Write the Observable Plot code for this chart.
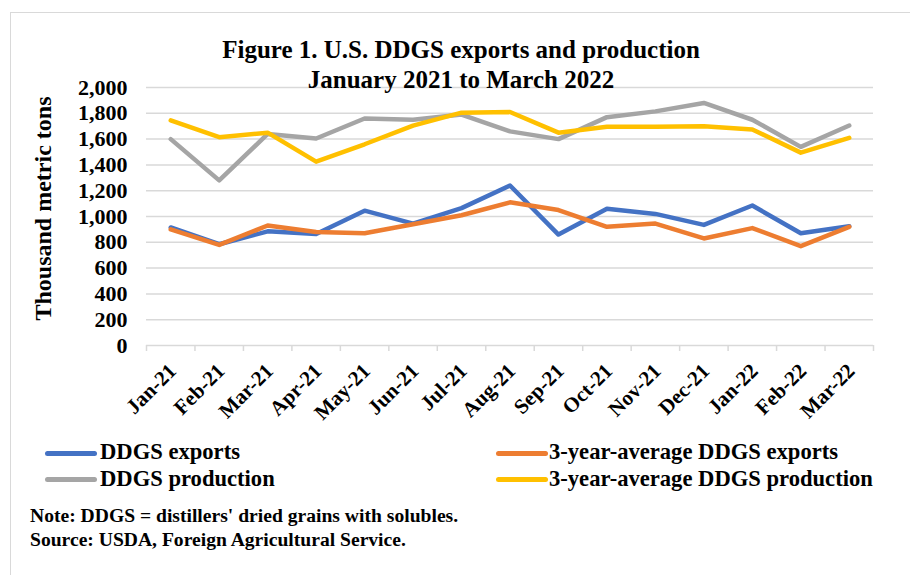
<!DOCTYPE html>
<html>
<head>
<meta charset="utf-8">
<script src="https://cdn.jsdelivr.net/npm/d3@7"></script>
<script src="https://cdn.jsdelivr.net/npm/@observablehq/plot@0.6"></script>
<style>
  html, body { margin: 0; padding: 0; background: #fff; }
  #wrap { position: relative; width: 910px; height: 575px; overflow: hidden; background: #fff;
          font-family: "Liberation Serif", "Times New Roman", serif; font-weight: bold; color: #000; }
  #border { position: absolute; left: 10px; top: 12px; width: 920px; height: 600px; border: 1.5px solid #d9d9d9; box-sizing: border-box; }
  #chart { position: absolute; left: 0; top: 0; }
  .title { position: absolute; left: 0; width: 922px; text-align: center; font-family: "Liberation Serif", serif; font-weight: 700; font-size: 25px; line-height: 30px; white-space: nowrap; }
  .leg { position: absolute; font-family: "Liberation Serif", serif; font-weight: 700; font-size: 22.6px; line-height: 26px; white-space: nowrap; }
  .sw { position: absolute; height: 5px; border-radius: 3px; }
  .note { position: absolute; left: 30px; font-family: "Liberation Serif", serif; font-weight: 700; font-size: 19.6px; line-height: 22px; white-space: nowrap; }
</style>
</head>
<body>
<div id="wrap">
  <div id="border"></div>
  <div id="chart"></div>
</div>
<script>
const months = ["Jan-21","Feb-21","Mar-21","Apr-21","May-21","Jun-21","Jul-21","Aug-21","Sep-21","Oct-21","Nov-21","Dec-21","Jan-22","Feb-22","Mar-22"];
const ddgsExports      = [915, 785, 885, 865, 1045, 945, 1065, 1240, 860, 1060, 1020, 935, 1085, 870, 925];
const avgExports       = [900, 780, 930, 880, 870, 940, 1010, 1110, 1050, 920, 945, 830, 910, 770, 920];
const ddgsProduction   = [1600, 1280, 1640, 1605, 1760, 1750, 1790, 1660, 1600, 1770, 1815, 1880, 1750, 1540, 1705];
const avgProduction    = [1745, 1615, 1650, 1425, 1560, 1705, 1805, 1810, 1650, 1695, 1695, 1700, 1675, 1495, 1610];
const seriesNames  = ["DDGS exports", "3-year-average DDGS exports", "DDGS production", "3-year-average DDGS production"];
const seriesColors = ["#4472C4", "#ED7D31", "#A5A5A5", "#FFC000"];
const yTicks = [0, 200, 400, 600, 800, 1000, 1200, 1400, 1600, 1800, 2000];
const titleLines = ["Figure 1. U.S. DDGS exports and production", "January 2021 to March 2022"];
const yTitle = "Thousand metric tons";
const notes = ["Note: DDGS = distillers' dried grains with solubles.", "Source: USDA, Foreign Agricultural Service."];

const allSeries = [ddgsExports, avgExports, ddgsProduction, avgProduction];
const rows = allSeries.flatMap((vals, s) => vals.map((v, i) => ({ s, i, v })));
const idx = months.map((m, i) => i);
const bounds = [-0.5, ...idx.map(i => i + 0.5)];
const font = "Liberation Serif";

const chart = Plot.plot({
  width: 910,
  height: 575,
  marginLeft: 146,
  marginRight: 37,
  marginTop: 87,
  marginBottom: 230,
  style: { fontFamily: font, background: "transparent", overflow: "visible" },
  x: { type: "linear", domain: [-0.5, 14.5] },
  y: { domain: [0, 2000] },
  marks: [
    Plot.gridY(yTicks, { stroke: "#d9d9d9", strokeOpacity: 1, strokeWidth: 1.5 }),
    Plot.ruleX(bounds, { x: d => d, stroke: "#d9d9d9", strokeWidth: 1.5, insetTop: 258, insetBottom: -6 }),
    Plot.axisY({ ticks: yTicks, tickFormat: d3.format(","), tickSize: 0, tickPadding: 19,
                 fontSize: 22, fontWeight: "bold", label: null, fill: "#000" }),
    Plot.axisX({ ticks: idx, tickFormat: i => months[i], tickSize: 0, tickRotate: -45, tickPadding: 22,
                 fontSize: 21, fontWeight: "bold", label: null, fill: "#000", dx: 2 }),
    Plot.text([yTitle], { frameAnchor: "left", text: d => d, rotate: -90, textAnchor: "middle", dx: -103, dy: -8,
                 fontSize: 24, fontWeight: "bold", fill: "#000" }),
    ...allSeries.map((vals, s) =>
      Plot.line(rows.filter(r => r.s === s), { x: "i", y: "v", stroke: seriesColors[s], strokeWidth: 4.5,
                 strokeLinejoin: "round", strokeLinecap: "round" }))
  ]
});
document.getElementById("chart").appendChild(chart);

const wrap = document.getElementById("wrap");
titleLines.forEach((t, k) => {
  const d = document.createElement("div");
  d.className = "title";
  d.style.top = (35 + k * 30) + "px";
  d.textContent = t;
  wrap.appendChild(d);
});
const legPos = [
  { sw: 45, tx: 100, row: 0 }, { sw: 496, tx: 549, row: 0 },
  { sw: 45, tx: 100, row: 1 }, { sw: 496, tx: 549, row: 1 }
];
seriesNames.forEach((name, s) => {
  const p = legPos[s];
  const sw = document.createElement("div");
  sw.className = "sw";
  sw.style.left = p.sw + "px";
  sw.style.width = "52px";
  sw.style.top = (450.5 + p.row * 26.6) + "px";
  sw.style.background = seriesColors[s];
  wrap.appendChild(sw);
  const t = document.createElement("div");
  t.className = "leg";
  t.style.left = p.tx + "px";
  t.style.top = (439.2 + p.row * 26.5) + "px";
  t.textContent = name;
  wrap.appendChild(t);
});
notes.forEach((n, k) => {
  const d = document.createElement("div");
  d.className = "note";
  d.style.top = (505 + k * 23.6) + "px";
  d.textContent = n;
  wrap.appendChild(d);
});
</script>
</body>
</html>
